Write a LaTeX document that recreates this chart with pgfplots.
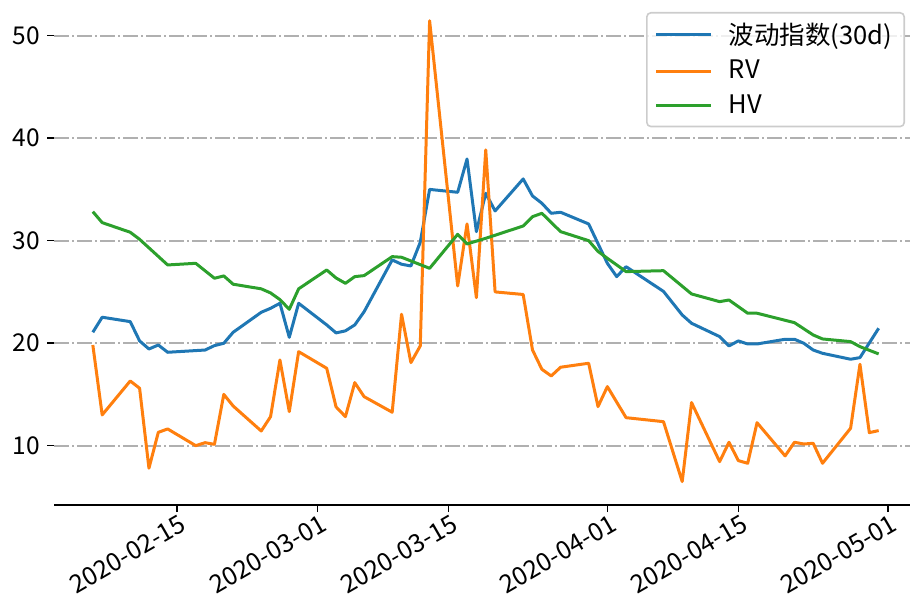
\documentclass[border=0pt]{standalone}
\usepackage{fontspec}
\setmainfont{Noto Sans CJK SC}
\usepackage{pgfplots}
\pgfplotsset{compat=1.18}
\definecolor{cblue}{HTML}{1F77B4}
\definecolor{corange}{HTML}{FF7F0E}
\definecolor{cgreen}{HTML}{2CA02C}
\definecolor{cgrid}{HTML}{B0B0B0}
\begin{document}
\begin{tikzpicture}
\begin{axis}[
  scale only axis, width=428bp, height=252.5bp,
  xmin=-13.15, xmax=78.35, ymin=4.21, ymax=53.48,
  axis x line*=bottom, axis y line*=left,
  y axis line style={draw=none},
  x axis line style={line width=0.9bp},
  tick align=outside, major tick length=3.5bp,
  tick style={black, line width=0.8bp},
  xtick={0,15,29,46,60,76},
  xticklabels={2020-02-15,2020-03-01,2020-03-15,2020-04-01,2020-04-15,2020-05-01},
  x tick label style={rotate=30, anchor=north east, font=\fontsize{12.6}{14}\selectfont, inner sep=1bp, xshift=1.5bp},
  ytick={10,20,30,40,50},
  y tick label style={font=\fontsize{12.3}{14}\selectfont},
  /pgf/number format/assume math mode=true,
  ymajorgrids,
  grid style={cgrid, line width=0.9bp, dash pattern=on 7.5bp off 1.5bp on 1bp off 1.5bp},
  legend style={at={(rel axis cs:1,1)}, anchor=north east, xshift=-2.5bp, yshift=-6bp,
    draw={rgb,255:red,204;green,204;blue,204}, line width=0.8bp, rounded corners=2bp,
    fill=white, fill opacity=0.8, text opacity=1,
    font=\fontsize{12.8}{15}\selectfont, inner xsep=4bp, inner ysep=3bp,
    row sep=2.5bp,
    /tikz/every odd column/.append style={column sep=6bp}},
  legend cell align=left,
  legend image code/.code={\draw[#1] (0bp,0bp) -- (27.5bp,0bp);},
  every axis plot/.append style={line width=1.5bp, line join=round},
]
\addplot[cblue] coordinates {
(-9,21.06) (-8,22.53) (-5,22.10) (-4,20.22) (-3,19.43) (-2,19.82) (-1,19.11)
(3,19.33) (4,19.76) (5,19.99) (6,21.06) (9,23.01) (10,23.40) (11,23.89) (12,20.57) (13,23.89)
(16,21.78) (17,21.00) (18,21.20) (19,21.78) (20,23.07) (23,28.12) (24,27.70) (25,27.53) (26,29.84) (27,35.00)
(30,34.72) (31,37.97) (32,30.88) (33,34.62) (34,32.90) (37,36.02) (38,34.36) (39,33.65) (40,32.67) (41,32.77)
(44,31.63) (46,27.79) (47,26.49) (48,27.46) (52,25.05) (54,22.75) (55,21.94)
(58,20.64) (59,19.73) (60,20.22) (61,19.92) (62,19.92) (65,20.38) (66,20.38) (67,19.99) (68,19.33) (69,19.01)
(72,18.43) (73,18.59) (75,21.45)};
\addlegendentry{波动指数(30d)}
\addplot[corange] coordinates {
(-9,19.82) (-8,13.00) (-5,16.31) (-4,15.60) (-3,7.80) (-2,11.30) (-1,11.63)
(2,10.00) (3,10.29) (4,10.13) (5,15.00) (6,13.87) (9,11.43) (10,12.83) (11,18.36) (12,13.32) (13,19.17)
(16,17.55) (17,13.78) (18,12.83) (19,16.15) (20,14.78) (23,13.26) (24,22.82) (25,18.10) (26,19.73) (27,51.46)
(30,25.58) (31,31.63) (32,24.44) (33,38.85) (34,25.00) (37,24.75) (38,19.33) (39,17.45) (40,16.80) (41,17.65)
(44,18.04) (45,13.81) (46,15.76) (48,12.73) (52,12.34) (54,6.49) (55,14.20)
(58,8.44) (59,10.33) (60,8.54) (61,8.28) (62,12.24) (65,9.00) (66,10.33) (67,10.16) (68,10.23) (69,8.28)
(72,11.70) (73,17.94) (74,11.27) (75,11.47)};
\addlegendentry{RV}
\addplot[cgreen] coordinates {
(-9,32.83) (-8,31.76) (-5,30.82) (-4,30.13) (-1,27.63)
(2,27.79) (4,26.33) (5,26.56) (6,25.75) (9,25.30) (10,24.90) (11,24.25) (12,23.30) (13,25.30)
(16,27.14) (17,26.36) (18,25.84) (19,26.49) (20,26.59) (23,28.44) (24,28.38) (27,27.30)
(30,30.62) (31,29.68) (33,30.23) (37,31.43) (38,32.34) (39,32.67) (41,30.88)
(44,30.00) (45,28.95) (46,28.28) (47,27.63) (48,26.98) (52,27.07) (55,24.80)
(58,24.05) (59,24.21) (61,22.92) (62,22.92) (66,22.00) (68,20.80) (69,20.41)
(72,20.15) (73,19.66) (75,18.95)};
\addlegendentry{HV}
\end{axis}
\pgfresetboundingbox
\path ([xshift=-27bp,yshift=-49bp]current axis.south west) rectangle (current axis.north east);
\end{tikzpicture}
\end{document}
